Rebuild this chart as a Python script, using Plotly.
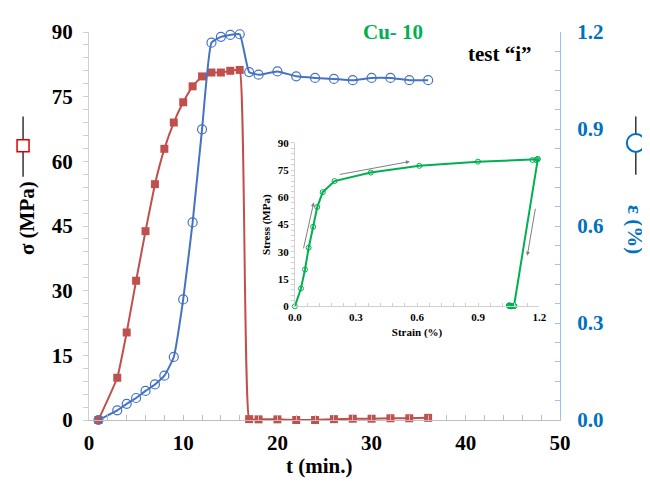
import plotly.graph_objects as go

# ---------------- data ----------------
t_min = [1, 3, 4, 5, 6, 7, 8, 9, 10, 11, 12, 13, 14, 15, 16, 17, 18, 20, 22, 24, 26, 28, 30, 32, 34, 36]
sigma_mpa = [0, 9.8, 20.3, 32.3, 43.8, 54.7, 62.9, 69.0, 73.7, 77.4, 79.7, 80.6, 80.6, 81.0, 81.2,
             0.2, 0.15, 0.15, 0.0, 0.0, 0.2, 0.3, 0.3, 0.4, 0.4, 0.5]
strain_pct = [0, 0.030, 0.050, 0.068, 0.090, 0.110, 0.137, 0.195, 0.373, 0.611, 0.899, 1.167, 1.185, 1.191, 1.193,
              1.076, 1.068, 1.078, 1.063, 1.058, 1.055, 1.051, 1.058, 1.058, 1.051, 1.051]

x_ticks = [0, 10, 20, 30, 40, 50]
y_ticks = [0, 15, 30, 45, 60, 75, 90]
y2_ticks = [0.0, 0.3, 0.6, 0.9, 1.2]
inset_x_ticks = [0.0, 0.3, 0.6, 0.9, 1.2]

RED = "#C0504D"
BLUE = "#4472C4"
GREEN = "#00B050"
SERIF = "Liberation Serif"

fig = go.Figure()

fig.add_trace(go.Scatter(
    x=t_min, y=sigma_mpa, mode="lines+markers", xaxis="x", yaxis="y", cliponaxis=False,
    line=dict(color=RED, width=2, shape="spline", smoothing=0.3),
    marker=dict(symbol="square", size=8, color=RED), showlegend=False))

fig.add_trace(go.Scatter(
    x=t_min, y=strain_pct, mode="lines+markers", xaxis="x", yaxis="y2", cliponaxis=False,
    line=dict(color=BLUE, width=2, shape="spline", smoothing=0.4),
    marker=dict(symbol="circle-open", size=9, color=BLUE, line=dict(width=1.2)), showlegend=False))

# inset: stress vs strain
fig.add_trace(go.Scatter(
    x=strain_pct, y=sigma_mpa, mode="lines+markers", xaxis="x2", yaxis="y3", cliponaxis=False,
    line=dict(color=GREEN, width=2),
    marker=dict(symbol="circle-open", size=5, color=GREEN, line=dict(width=1)), showlegend=False))

bold = dict(family=SERIF, weight="bold")

# the page body adds an 8px offset, so the figure is sized to fit the 650x488 window
fig.update_layout(
    width=642, height=480,
    margin=dict(l=81, r=90, t=13, b=68),
    paper_bgcolor="white", plot_bgcolor="white",
    font=dict(family=SERIF),
    xaxis=dict(domain=[0, 1], range=[0, 50], tickvals=x_ticks, ticks="inside", ticklen=5,
               tickcolor="#BFBFBF", showline=True, linecolor="#BFBFBF", linewidth=1,
               showgrid=False, zeroline=False, anchor="y",
               minor=dict(dtick=2, ticks="inside", ticklen=5, tickcolor="#BFBFBF"),
               tickfont=dict(size=21, color="black", **bold), ticklabelstandoff=4),
    yaxis=dict(range=[0, 90], tickvals=y_ticks, ticks="outside", ticklen=5, tickcolor="#D0D0D0",
               showline=True, linecolor="#D0D0D0", linewidth=1, showgrid=False, zeroline=False,
               minor=dict(dtick=3, ticks="outside", ticklen=5, tickcolor="#D0D0D0"),
               tickfont=dict(size=21, color="black", **bold), anchor="x", ticklabelstandoff=6),
    yaxis2=dict(range=[0, 1.2], tickvals=y2_ticks, tickformat=".1f", overlaying="y", side="right",
                ticks="inside", ticklen=5, tickcolor="#9DC3E6", showline=True, linecolor="#9DC3E6",
                linewidth=1, showgrid=False, zeroline=False, anchor="x",
                minor=dict(dtick=0.06, ticks="inside", ticklen=5, tickcolor="#9DC3E6"),
                tickfont=dict(size=21, color="#0070C0", **bold), ticklabelstandoff=12),
    xaxis2=dict(domain=[0.437, 0.956], range=[0, 1.2], tickvals=inset_x_ticks, tickformat=".1f",
                anchor="y3", ticks="inside", ticklen=3, tickcolor="#D0D0D0", showline=True,
                linecolor="#D0D0D0", showgrid=False, zeroline=False,
                minor=dict(dtick=0.06, ticks="inside", ticklen=3, tickcolor="#D0D0D0"),
                tickfont=dict(size=11, color="black", **bold),
                title=dict(text="Strain (%)", font=dict(size=11, color="black", **bold), standoff=6)),
    yaxis3=dict(domain=[0.293, 0.714], range=[0, 90], tickvals=y_ticks, anchor="x2",
                ticks="outside", ticklen=3, tickcolor="#D0D0D0", showline=True, linecolor="#D0D0D0",
                showgrid=False, zeroline=False,
                minor=dict(dtick=3, ticks="outside", ticklen=3, tickcolor="#D0D0D0"),
                tickfont=dict(size=11, color="black", **bold),
                title=dict(text="Stress (MPa)", font=dict(size=11, color="black", **bold), standoff=4)),
)

annotations = [
    dict(text="t (min.)", x=0.49, y=-0.118, xref="paper", yref="paper", showarrow=False,
         xanchor="center", yanchor="middle", font=dict(size=21, color="black", **bold)),
    dict(text="σ (MPa)", x=-0.132, y=0.52, xref="paper", yref="paper", showarrow=False,
         textangle=-90, xanchor="center", yanchor="middle", font=dict(size=21, color="black", **bold)),
    dict(text="ε (%)", x=1.159, y=0.49, xref="paper", yref="paper", showarrow=False,
         textangle=90, xanchor="center", yanchor="middle", font=dict(size=21, color="#0070C0", **bold)),
    dict(text="Cu- 10", x=0.646, y=1.0, xref="paper", yref="paper", showarrow=False,
         xanchor="center", yanchor="middle", font=dict(size=21, color=GREEN, **bold)),
    dict(text="test “i”", x=0.873, y=0.944, xref="paper", yref="paper", showarrow=False,
         xanchor="center", yanchor="middle", font=dict(size=21, color="black", **bold)),
]
# inset arrows
for (x0, y0, x1, y1) in [(0.041, 31.1, 0.093, 57.3), (0.213, 72.5, 0.565, 79.8), (1.182, 54.6, 1.141, 27.9)]:
    annotations.append(dict(x=x1, y=y1, ax=x0, ay=y0, xref="x2", yref="y3", axref="x2", ayref="y3",
                            showarrow=True, arrowhead=2, arrowsize=0.8, arrowwidth=1,
                            arrowcolor="#7F7F7F", text=""))
fig.update_layout(annotations=annotations)

# legend-like symbols next to axis titles
shapes = [
    dict(type="line", xref="paper", yref="paper", x0=-0.140, x1=-0.140, y0=0.627, y1=0.782,
         line=dict(color="black", width=1.2)),
    dict(type="rect", xref="paper", yref="paper", xsizemode="pixel", ysizemode="pixel",
         xanchor=-0.140, yanchor=0.707, x0=-6, x1=6, y0=-6, y1=6,
         line=dict(color="#E00000", width=1.5), fillcolor="white"),
    dict(type="line", xref="paper", yref="paper", x0=1.161, x1=1.161, y0=0.632, y1=0.782,
         line=dict(color="black", width=1.2)),
    dict(type="circle", xref="paper", yref="paper", xsizemode="pixel", ysizemode="pixel",
         xanchor=1.161, yanchor=0.714, x0=-9, x1=9, y0=-9, y1=9,
         line=dict(color="#0070C0", width=2), fillcolor="white"),
]
fig.update_layout(shapes=shapes)

fig.write_html("out.html")
